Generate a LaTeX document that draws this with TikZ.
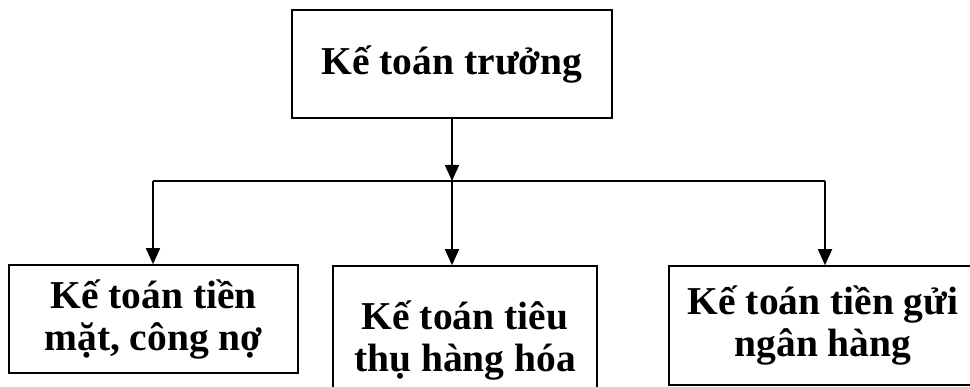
\documentclass[tikz,border=0pt]{standalone}
\usepackage{fontspec}
\setmainfont{Liberation Serif}
\usetikzlibrary{positioning,arrows.meta}

\begin{document}
\begin{tikzpicture}[x=1pt, y=-1pt,
  box/.style={draw, line width=1.6pt, align=center, inner sep=0pt, font=\fontsize{39.5}{42}\selectfont\bfseries},
  arr/.style={-{Triangle[width=14pt,length=16pt]}, line width=1.8pt}]
\useasboundingbox (0,0) rectangle (970,387);
\node[box, minimum width=320pt, minimum height=108pt] (head) at (452,64) {Kế toán trưởng};
\node[box, minimum width=289pt, minimum height=108pt] (cash) at (153.5,319) {Kế toán tiền\\mặt, công nợ};
\node[box, minimum width=264pt, minimum height=148pt] (sales) at (465,340) {Kế toán tiêu\\thụ hàng hóa};
\node[box, minimum width=308pt, minimum height=119pt] (bank) at (823,325.5) {Kế toán tiền gửi\\ngân hàng};
\coordinate (bus) at (452,181);
\coordinate (busL) at (153,181);
\coordinate (busR) at (825,181);
\draw[arr] (head.south) -- (bus);
\draw[line width=1.4pt] (busL) -- (busR);
\draw[arr] (busL) -- (busL |- cash.north);
\draw[arr] (bus) -- (bus |- sales.north);
\draw[arr] (busR) -- (busR |- bank.north);
\end{tikzpicture}
\end{document}
